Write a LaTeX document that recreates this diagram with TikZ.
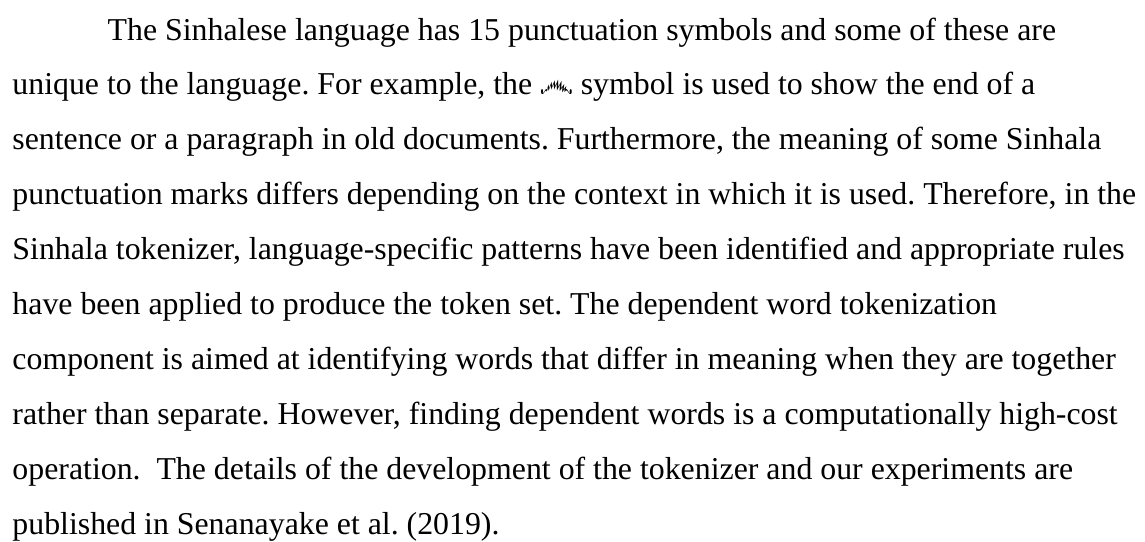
\documentclass[tikz,border=0pt]{standalone}
\usepackage{graphicx}
\usepackage{fontspec}
\setmainfont{Liberation Serif}
\newfontfamily\sinhalafont[Script=Sinhala]{Abhaya Libre}
\usepackage{tikz}
\usetikzlibrary{positioning}

\begin{document}
\begin{tikzpicture}[
    textline/.style={anchor=base west, inner sep=0pt, font=\fontsize{12}{14}\selectfont\frenchspacing}
    ]
    \useasboundingbox (0pt,0pt) rectangle (431.7pt,-204pt);

    %First line, indented
    \node[textline]        (line_first)      at (40.4pt,-15.1pt) {The Sinhalese language has 15 punctuation symbols and some of these are};

    %Other lines
    \node[textline]        (line_second)     at (4.5pt,-35.8pt) {unique to the language. For example, the \scalebox{0.62}[1.25]{\sinhalafont\bfseries ෴} symbol is used to show the end of a};
    \node[textline]        (line_third)      [below=20.7pt of line_second.base west, anchor=base west] {sentence or a paragraph in old documents. Furthermore, the meaning of some Sinhala};
    \node[textline]        (line_fourth)     [below=20.7pt of line_third.base west, anchor=base west] {punctuation marks differs depending on the context in which it is used. Therefore, in the};
    \node[textline]        (line_fifth)      [below=20.7pt of line_fourth.base west, anchor=base west] {Sinhala tokenizer, language-specific patterns have been identified and appropriate rules};
    \node[textline]        (line_sixth)      [below=20.7pt of line_fifth.base west, anchor=base west] {have been applied to produce the token set. The dependent word tokenization};
    \node[textline]        (line_seventh)    [below=20.7pt of line_sixth.base west, anchor=base west] {component is aimed at identifying words that differ in meaning when they are together};
    \node[textline]        (line_eighth)     [below=20.7pt of line_seventh.base west, anchor=base west] {rather than separate. However, finding dependent words is a computationally high-cost};
    \node[textline]        (line_ninth)      [below=20.7pt of line_eighth.base west, anchor=base west] {operation.\ \ The details of the development of the tokenizer and our experiments are};
    \node[textline]        (line_last)       [below=20.7pt of line_ninth.base west, anchor=base west] {published in Senanayake et al. (2019).};

\end{tikzpicture}
\end{document}
